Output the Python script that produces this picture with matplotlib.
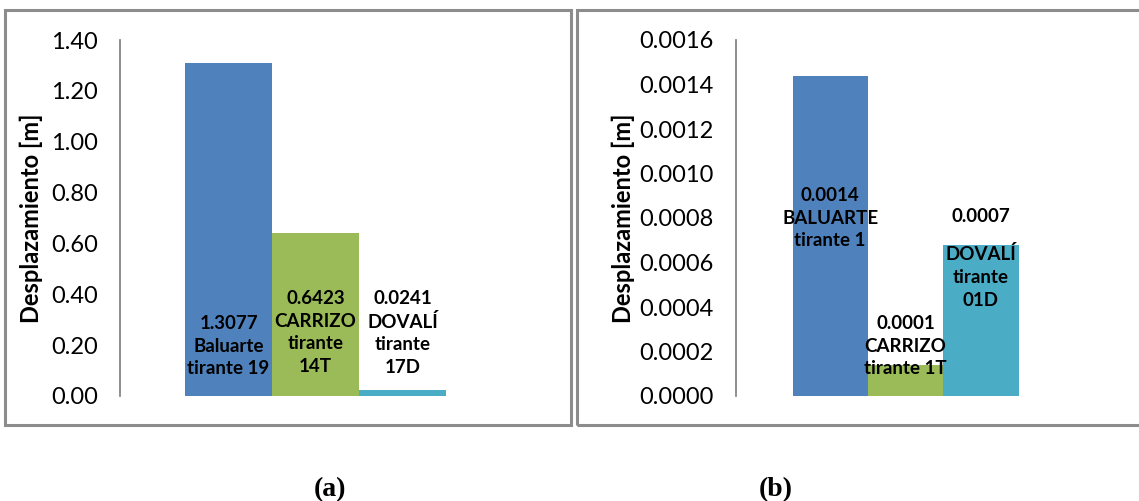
import matplotlib
matplotlib.use("Agg")
import matplotlib.pyplot as plt
from matplotlib.patches import Rectangle
import matplotlib.transforms as mtransforms

# --- data ---------------------------------------------------------------
colors = ["#4F81BD", "#9BBB59", "#4BACC6"]

values_a = [1.3077, 0.6423, 0.0241]
yticks_a = [0.0, 0.2, 0.4, 0.6, 0.8, 1.0, 1.2, 1.4]
# (bar index, text, centre height as fraction of axes)
labels_a = [(0, "1.3077\nBaluarte\ntirante 19", 0.14),
            (1, "0.6423\nCARRIZO\ntirante\n14T", 0.178),
            (2, "0.0241\nDOVALÍ\ntirante\n17D", 0.178)]

values_b = [0.00144, 0.00014, 0.00068]
yticks_b = [0.0, 0.0002, 0.0004, 0.0006, 0.0008, 0.0010, 0.0012, 0.0014, 0.0016]
labels_b = [(0, "0.0014\nBALUARTE\ntirante 1", 0.50),
            (1, "0.0001\nCARRIZO\ntirante 1T", 0.14),
            (2, "0.0007", 0.503),
            (2, "DOVALÍ\ntirante\n01D", 0.334)]

FONT = ["Lato", "DejaVu Sans"]
plt.rcParams["font.family"] = FONT

W, H = 1139, 501
fig = plt.figure(figsize=(W / 100, H / 100), dpi=100)


def px_rect(x0, y0, x1, y1):
    """pixel box (top-left origin) -> figure fraction rect"""
    return [x0 / W, 1 - y1 / H, (x1 - x0) / W, (y1 - y0) / H]


# panel frames
for x0, x1 in ((5, 571), (577, 1145)):
    fig.patches.append(Rectangle((x0 / W, 1 - 425 / H), (x1 - x0) / W, 415 / H,
                                 transform=fig.transFigure, fill=False,
                                 edgecolor="#8c8c8c", linewidth=2.2))


def draw_panel(rect, values, labels, yticks, fmt, ylab_x):
    ax = fig.add_axes(rect)
    xs = list(range(len(values)))
    ax.bar(xs, values, width=1.0, color=colors)
    ax.set_xlim(-1.25, len(values) + 0.25)
    ax.set_ylim(yticks[0], yticks[-1])
    ax.set_yticks(yticks)
    ax.set_yticklabels([fmt.format(t) for t in yticks], fontsize=17)
    ax.tick_params(axis="y", length=0, pad=16)
    ax.set_xticks([])
    for s in ("top", "right", "bottom"):
        ax.spines[s].set_visible(False)
    ax.spines["left"].set_color("#868686")
    ax.spines["left"].set_linewidth(1.3)
    ax.set_ylabel("Desplazamiento [m]", fontsize=17, fontweight="bold")
    ax.yaxis.set_label_coords(ylab_x, 0.5)
    trans = mtransforms.blended_transform_factory(ax.transData, ax.transAxes)
    for x, lab, yp in labels:
        ax.text(x, yp, lab, transform=trans, ha="center", va="center",
                fontsize=13.5, fontweight="bold", linespacing=1.4)
    return ax


draw_panel(px_rect(120, 40, 511, 396), values_a, labels_a, yticks_a,
           "{:.2f}", -0.197)
draw_panel(px_rect(736, 40, 1075, 396), values_b, labels_b, yticks_b,
           "{:.4f}", -0.298)

for cx, txt in ((330, "(a)"), (776, "(b)")):
    fig.text(cx / W, 1 - 490 / H, txt, ha="center", va="center", fontsize=20,
             fontweight="bold", family="Liberation Serif")

fig.savefig("out.png", dpi=100)
